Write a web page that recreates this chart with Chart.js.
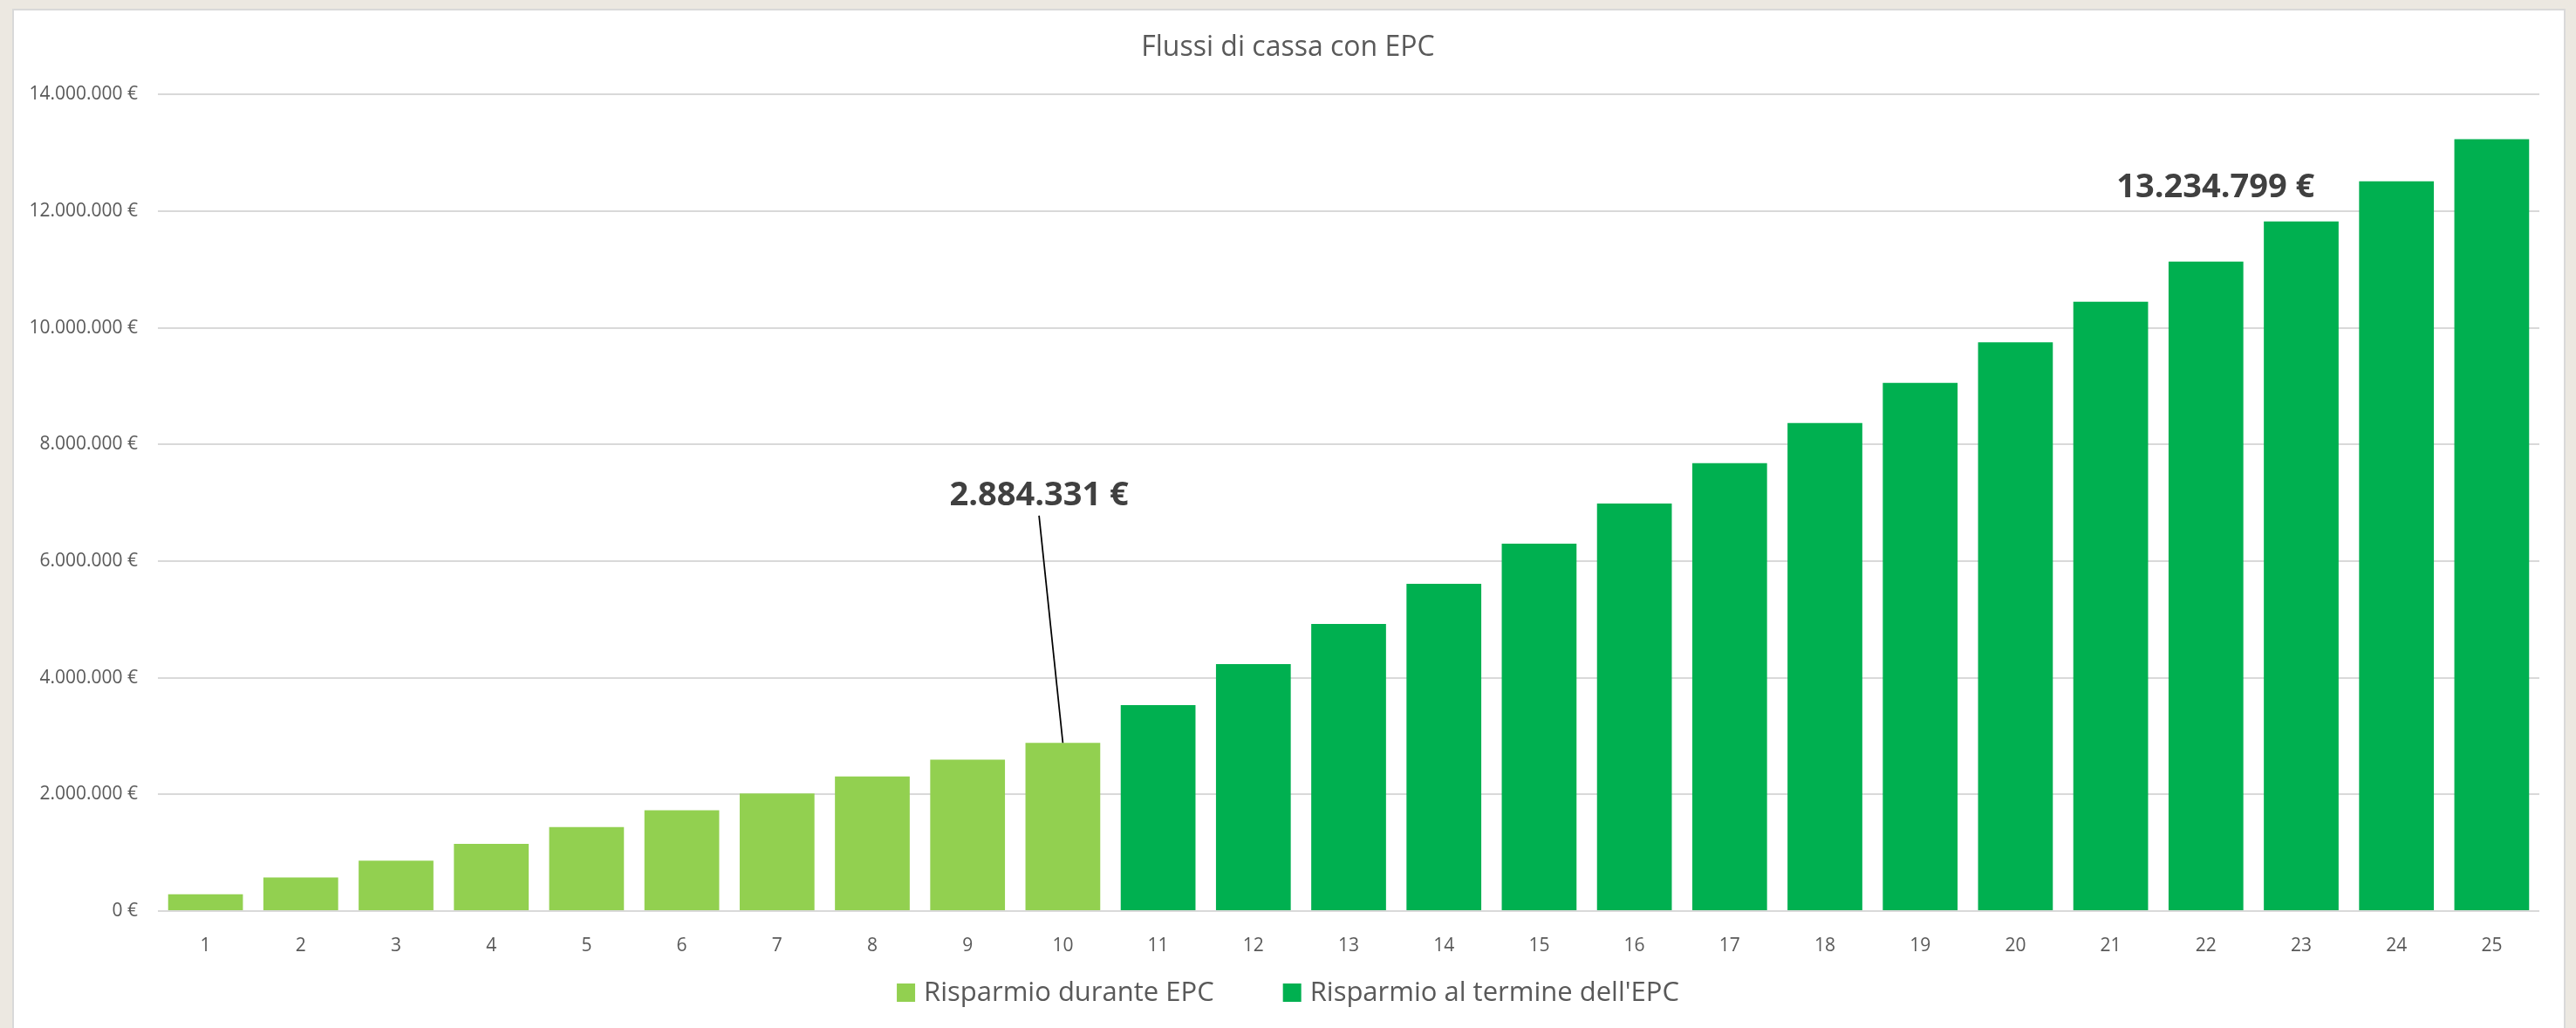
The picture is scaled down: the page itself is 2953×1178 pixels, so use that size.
<!DOCTYPE html>
<html>
<head>
<meta charset="utf-8">
<title>Flussi di cassa con EPC</title>
<script src="https://cdn.jsdelivr.net/npm/chart.js@4"></script>
<style>
  html, body { margin: 0; padding: 0; background: #ECE8E1; overflow: hidden; }
  #panel { position: absolute; left: 14px; top: 10px; width: 2923px; height: 1200px; background: #fff; border: 2px solid #D9D9D9; }
  #myChart { position: absolute; left: 0; top: 0; }
</style>
</head>
<body>
<div id="panel"></div>
<canvas id="myChart" width="2953" height="1178"></canvas>
<script>
// anni del contratto
const anni = ["1", "2", "3", "4", "5", "6", "7", "8", "9", "10", "11", "12", "13",
  "14", "15", "16", "17", "18", "19", "20", "21", "22", "23", "24", "25"];

// risparmio cumulato durante l'EPC (anni 1-10)
const risparmioDuranteEPC = [288000, 575000, 865000, 1153000, 1442000, 1730000, 2015000,
  2307000, 2595000, 2884331, null, null, null, null, null, null, null, null, null, null,
  null, null, null, null, null];

// risparmio cumulato dopo la fine dell'EPC (anni 11-25)
const risparmioTermineEPC = [null, null, null, null, null, null, null, null, null, null,
  3532000, 4234000, 4922000, 5612000, 6301000, 6989000, 7679000, 8368000, 9056000,
  9753000, 10448000, 11136000, 11826000, 12515000, 13234799];

const tickEuro = ["0 €", "2.000.000 €", "4.000.000 €", "6.000.000 €", "8.000.000 €",
  "10.000.000 €", "12.000.000 €", "14.000.000 €"];

const titolo = "Flussi di cassa con EPC";

const FONT = "'Open Sans', sans-serif";

function euro(v) {
  return String(v).replace(/\B(?=(\d{3})+(?!\d))/g, ".") + " €";
}

// titolo centrato sulla pagina (il grafico non e' simmetrico)
const titoloPlugin = {
  id: "titolo",
  afterDraw(chart) {
    const c = chart.ctx;
    c.save();
    c.font = "32px " + FONT;
    c.fillStyle = "#595959";
    c.textAlign = "center";
    c.textBaseline = "middle";
    c.fillText(titolo, chart.width / 2, 55.2);
    c.restore();
  }
};

// etichette in grassetto (anno 10 con linea di richiamo, anno 25)
const etichette = {
  id: "etichette",
  afterDatasetsDraw(chart) {
    const x = chart.scales.x, y = chart.scales.y, c = chart.ctx;
    const cw = x.getPixelForValue(1) - x.getPixelForValue(0);
    c.save();
    c.font = "bold 38px " + FONT;
    c.fillStyle = "#404040";
    c.textAlign = "center";
    c.textBaseline = "alphabetic";

    const i1 = 9;
    const tx1 = x.getPixelForValue(i1) - 0.25 * cw;
    c.fillText(euro(risparmioDuranteEPC[i1]), tx1, y.getPixelForValue(6960000));
    c.beginPath();
    c.moveTo(tx1, y.getPixelForValue(6780000));
    c.lineTo(x.getPixelForValue(i1), y.getPixelForValue(risparmioDuranteEPC[i1]));
    c.strokeStyle = "#000";
    c.lineWidth = 1.75;
    c.stroke();

    const i2 = 24;
    c.fillText(euro(risparmioTermineEPC[i2]), x.getPixelForValue(21) + 0.1 * cw, y.getPixelForValue(12233000));
    c.restore();
  }
};

// legenda disegnata a mano per avere le spaziature di Excel
const legenda = {
  id: "legenda",
  afterDraw(chart) {
    const c = chart.ctx;
    const ds = chart.data.datasets;
    c.save();
    c.font = "31px " + FONT;
    c.textBaseline = "middle";
    const box = 21, gapTesto = 10, gapVoci = 79;
    const larg = ds.map(d => box + gapTesto + c.measureText(d.label).width);
    const tot = larg.reduce((a, b) => a + b, 0) + gapVoci * (ds.length - 1);
    let x = chart.width / 2 - tot / 2;
    const cy = chart.chartArea.bottom + 93.5;
    ds.forEach((d, i) => {
      c.fillStyle = d.backgroundColor;
      c.fillRect(x, cy - box / 2, box, box);
      c.fillStyle = "#595959";
      c.fillText(d.label, x + box + gapTesto, cy + 1);
      x += larg[i] + gapVoci;
    });
    c.restore();
  }
};

const ctx = document.getElementById("myChart");

new Chart(ctx, {
  type: "bar",
  data: {
    labels: anni,
    datasets: [
      {
        label: "Risparmio durante EPC",
        data: risparmioDuranteEPC,
        backgroundColor: "#92D050",
        categoryPercentage: 1,
        barPercentage: 0.785,
      },
      {
        label: "Risparmio al termine dell'EPC",
        data: risparmioTermineEPC,
        backgroundColor: "#00B050",
        categoryPercentage: 1,
        barPercentage: 0.785,
      },
    ],
  },
  options: {
    responsive: false,
    animation: false,
    layout: { padding: { left: 20, right: 42, top: 108.4, bottom: 74 } },
    plugins: {
      title: { display: false },
      legend: { display: false },
      tooltip: { enabled: false },
    },
    scales: {
      x: {
        stacked: true,
        grid: { display: false },
        border: { display: false },
        ticks: { color: "#595959", font: { family: FONT, size: 21 }, padding: 19 },
        afterFit: (s) => { s.height = 60; },
      },
      y: {
        stacked: true,
        min: 0,
        max: 14000000,
        grid: { color: "#D9D9D9", lineWidth: 2, drawTicks: false },
        border: { display: false },
        ticks: {
          stepSize: 2000000,
          color: "#595959",
          font: { family: FONT, size: 21 },
          padding: 23,
          callback: (v) => tickEuro[v / 2000000],
        },
        afterFit: (s) => { s.width = 161; },
      },
    },
  },
  plugins: [etichette, legenda, titoloPlugin],
});
</script>
</body>
</html>
